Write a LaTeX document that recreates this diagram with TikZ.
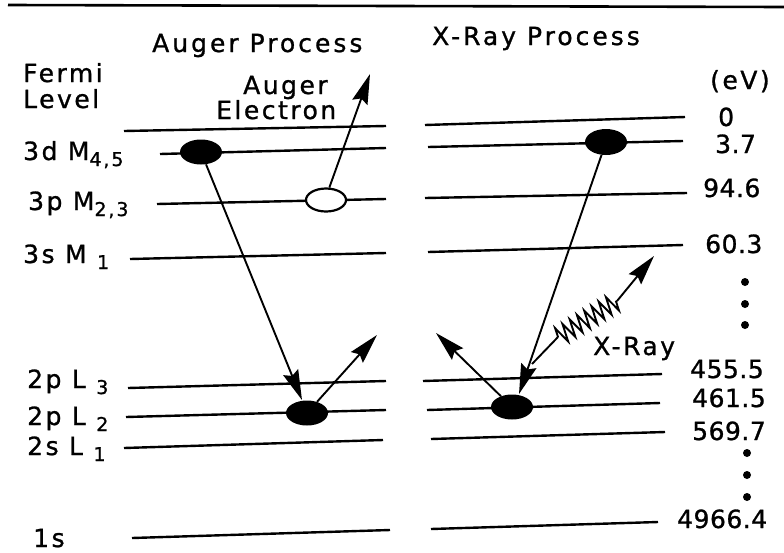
\documentclass[tikz,border=0pt]{standalone}
\usepackage{fontspec}
\setmainfont[LetterSpace=10,FakeBold=1]{DejaVu Sans}
\newfontfamily\titlefont[LetterSpace=12,FakeBold=1]{DejaVu Sans}
\newfontfamily\numfont[LetterSpace=2,FakeBold=1]{DejaVu Sans}
\usetikzlibrary{arrows.meta,shapes.geometric,decorations.pathmorphing}
\newcommand\lsub[1]{\raisebox{-6pt}{\fontsize{19}{19}\selectfont #1}}
\begin{document}
\begin{tikzpicture}[x=1pt,y=-1pt,
  level/.style={line width=2.4pt},
  arr/.style={line width=1.9pt,-{Stealth[length=30pt,width=16pt,inset=4pt]}},
  filled/.style={ellipse,fill=black,inner sep=0pt,minimum width=42pt,minimum height=25pt},
  hole/.style={ellipse,draw,line width=2.2pt,fill=white,inner sep=0pt,minimum width=40pt,minimum height=23pt},
  lbl/.style={anchor=base west,inner sep=0pt,font=\fontsize{25}{29}\selectfont},
  num/.style={anchor=base west,inner sep=0pt,font=\numfont\fontsize{25}{29}\selectfont},
  ttl/.style={anchor=base west,inner sep=0pt,font=\titlefont\fontsize{25}{29}\selectfont},
  dot/.style={circle,fill=black,inner sep=0pt,minimum size=8pt}]
\useasboundingbox (0,0) rectangle (784,552);
% top border
\draw[line width=2.6pt] (8,5) -- (784,7);
% left panel levels
\draw[level] (124,131) -- (386,126);
\draw[level] (160,154) -- (386,148);
\draw[level] (157,204) -- (386,199);
\draw[level] (130,259) -- (386,253);
\draw[level] (128,388) -- (386,381);
\draw[level] (126,417) -- (386,410);
\draw[level] (124,448) -- (383,440);
\draw[level] (132,538) -- (390,530);
% right panel levels
\draw[level] (425,125) -- (685,117);
\draw[level] (428,147) -- (683,141);
\draw[level] (425,198) -- (687,193);
\draw[level] (428,252) -- (683,245);
\draw[level] (423,381) -- (662,374);
\draw[level] (427,410) -- (660,403);
\draw[level] (431,439) -- (665,432);
\draw[level] (431,529) -- (658,522);
% electrons and hole
\node[filled] (e3dL) at (201,152) {};
\node[hole] (hM23) at (326,200) {};
\node[filled] (eL2L) at (307,413) {};
\node[filled,minimum height=26pt] (e3dR) at (606,142) {};
\node[filled] (eL2R) at (512,407) {};
% arrow end points
\coordinate (tAug) at (370,74);
\coordinate (tDL) at (302,400);
\coordinate (tUL) at (377,335);
\coordinate (tDR) at (519,394);
\coordinate (tUR) at (436,333);
\coordinate (xs) at (532,364);
\coordinate (za) at (558,337);
\coordinate (zb) at (617,301);
\coordinate (tX) at (654,256);
% arrows
\draw[arr] (hM23.75) -- (tAug);
\draw[arr] (e3dL) -- (tDL);
\draw[arr] (eL2L) -- (tUL);
\draw[arr] (e3dR) -- (tDR);
\draw[arr] (eL2R) -- (tUR);
% X-ray photon
\draw[line width=1.9pt] (xs) -- (za);
\draw[line width=1.9pt,decorate,decoration={zigzag,segment length=8.5pt,amplitude=9pt}] (za) -- (zb);
\draw[arr] (zb) -- (tX);
% titles
\node[ttl] (tA) at (152,52) {Auger Process};
\node[ttl] (tXp) at (432,45) {X-Ray Process};
% left labels
\node[lbl] (fermi) at (23,82) {Fermi};
\node[lbl] (lev) at (23,108) {Level};
\node[lbl] (aug) at (243,94) {Auger};
\node[lbl] (elec) at (216,119) {Electron};
\node[lbl] (l3d) at (23,160) {3d M\lsub{4,5}};
\node[lbl] (l3p) at (28,210) {3p M\lsub{2,3}};
\node[lbl] (l3s) at (23,263) {3s M \lsub{1}};
\node[lbl] (l2p3) at (27,388) {2p L \lsub{3}};
\node[lbl] (l2p2) at (27,425) {2p L \lsub{2}};
\node[lbl] (l2s) at (27,455) {2s L \lsub{1}};
\node[lbl] (l1s) at (33,547) {1s};
% right labels
\node[lbl] (ev) at (710,89) {(eV)};
\node[num] (v0) at (718,126) {0};
\node[num] (v37) at (715,153) {3.7};
\node[num] (v946) at (703,197) {94.6};
\node[num] (v603) at (705,253) {60.3};
\node[dot] (d1) at (745,282) {};
\node[dot] (d2) at (745,304) {};
\node[dot] (d3) at (745,325) {};
\node[lbl] (xray) at (593,355) {X-Ray};
\node[num] (v4555) at (690,378) {455.5};
\node[num] (v4615) at (692,407) {461.5};
\node[num] (v5697) at (692,440) {569.7};
\node[dot] (d4) at (747,453) {};
\node[dot] (d5) at (747,475) {};
\node[dot] (d6) at (747,497) {};
\node[num] (v4966) at (677,528) {4966.4};
\end{tikzpicture}
\end{document}
